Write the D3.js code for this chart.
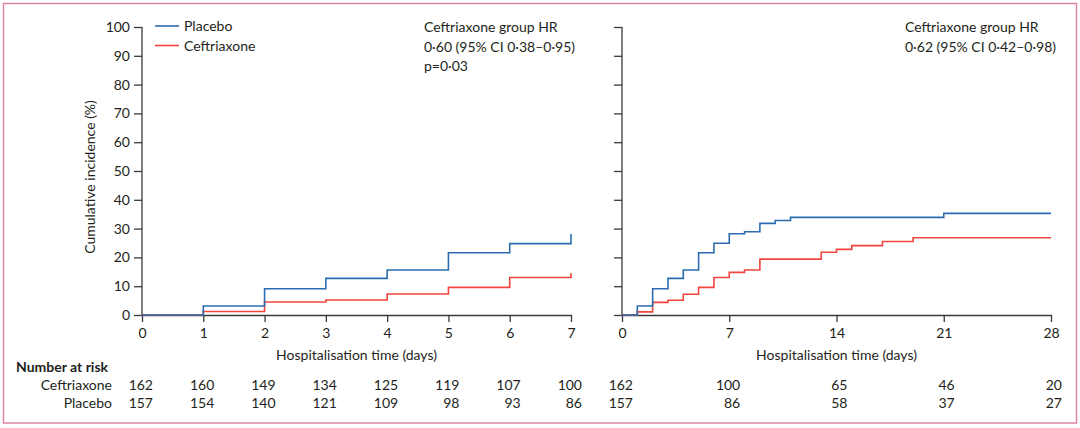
<!DOCTYPE html>
<html>
<head>
<meta charset="utf-8">
<script src="https://cdn.jsdelivr.net/npm/d3@7"></script>
<style>
  body { margin: 0; background: #fff; }
  svg text { font-family: Lato, "Open Sans", sans-serif; fill: #231f20; }
  .axis path, .axis line { stroke: #3a3a3a; stroke-width: 1.3; }
  .axis text { font-size: 14px; }
</style>
</head>
<body>
<div class="chart"></div>
<script>
// left panel: 0-7 days
const leftTicks = [0, 1, 2, 3, 4, 5, 6, 7];
const placeboLeftT = [0, 1, 2, 3, 4, 5, 6, 7];
const placeboLeftV = [0, 3.1, 9.1, 12.7, 15.6, 21.6, 24.8, 28.1];
const ceftLeftT = [0, 1, 2, 3, 4, 5, 6, 7];
const ceftLeftV = [0, 1.2, 4.5, 5.2, 7.3, 9.6, 13.0, 14.6];

// right panel: 0-28 days
const rightTicks = [0, 7, 14, 21, 28];
const placeboRightT = [0, 1, 2, 3, 4, 5, 6, 7, 8, 9, 10, 11, 21, 28];
const placeboRightV = [0, 3.1, 9.1, 12.7, 15.6, 21.6, 24.9, 28.2, 28.9, 31.8, 32.8, 33.9, 35.3, 35.3];
const ceftRightT = [0, 1, 2, 3, 4, 5, 6, 7, 8, 9, 13, 14, 15, 17, 19, 28];
const ceftRightV = [0, 1.1, 4.4, 5.1, 7.2, 9.6, 13.0, 14.8, 15.6, 19.4, 21.8, 22.8, 24.1, 25.5, 26.8, 26.8];

const yTicks = [0, 10, 20, 30, 40, 50, 60, 70, 80, 90, 100];

// number at risk
const ceftRiskLeft = [162, 160, 149, 134, 125, 119, 107, 100];
const placeboRiskLeft = [157, 154, 140, 121, 109, 98, 93, 86];
const ceftRiskRight = [162, 100, 65, 46, 20];
const placeboRiskRight = [157, 86, 58, 37, 27];

const groups = ['Placebo', 'Ceftriaxone'];
const colors = ['#2b6cb0', '#f2453d'];

const width = 1080, height = 428;
const svg = d3.select('.chart')
    .append('svg')
    .attr('width', width)
    .attr('height', height);

// frame
svg.append('rect')
    .attr('x', 3.5).attr('y', 3.5)
    .attr('width', 1073).attr('height', 419.5)
    .attr('fill', 'none')
    .attr('stroke', '#dc86a4')
    .attr('stroke-width', 1.5);

const y = d3.scaleLinear().domain([0, 100]).range([315, 27]);
const xL = d3.scaleLinear().domain([0, 7]).range([142, 571]);
const xR = d3.scaleLinear().domain([0, 28]).range([622, 1051]);

function drawAxes(x, ticks, showLabels) {
    const yAxis = d3.axisLeft(y).tickValues(yTicks).tickSize(8).tickPadding(4).tickSizeOuter(0);
    if (!showLabels) yAxis.tickFormat('');
    svg.append('g')
        .attr('class', 'axis')
        .attr('transform', 'translate(' + x.range()[0] + ',0)')
        .call(yAxis)
        .call(g => g.select('.domain').remove())
        .call(g => g.append('line')
            .attr('x1', 0).attr('x2', 0)
            .attr('y1', y(0)).attr('y2', y(100)));

    svg.append('g')
        .attr('class', 'axis')
        .attr('transform', 'translate(0,' + y(0) + ')')
        .call(d3.axisBottom(x).tickValues(ticks).tickFormat(d3.format('d'))
            .tickSize(7).tickPadding(4).tickSizeOuter(0))
        .call(g => g.selectAll('.tick text').attr('dy', '0.85em'));
}
drawAxes(xL, leftTicks, true);
drawAxes(xR, rightTicks, false);

const line = x => d3.line()
    .x(d => x(d[0]))
    .y(d => y(d[1]))
    .curve(d3.curveStepAfter);

function curve(x, t, v, color) {
    svg.append('path')
        .datum(t.map((d, i) => [d, v[i]]))
        .attr('fill', 'none')
        .attr('stroke', color)
        .attr('stroke-width', 1.6)
        .attr('d', line(x));
}
curve(xL, ceftLeftT, ceftLeftV, colors[1]);
curve(xL, placeboLeftT, placeboLeftV, colors[0]);
curve(xR, ceftRightT, ceftRightV, colors[1]);
curve(xR, placeboRightT, placeboRightV, colors[0]);

// legend
const legend = svg.append('g').attr('transform', 'translate(155,26)');
groups.forEach((g, i) => {
    legend.append('line')
        .attr('x1', 0).attr('x2', 24)
        .attr('y1', i * 19.5).attr('y2', i * 19.5)
        .attr('stroke', colors[i]).attr('stroke-width', 1.6);
    legend.append('text')
        .attr('x', 29).attr('y', i * 19.5 + 5)
        .style('font-size', '14px')
        .text(g);
});

// annotations
const noteL = ['Ceftriaxone group HR', '0\u00b760 (95% CI 0\u00b738\u20130\u00b795)', 'p=0\u00b703'];
const noteR = ['Ceftriaxone group HR', '0\u00b762 (95% CI 0\u00b742\u20130\u00b798)'];
noteL.forEach((t, i) => svg.append('text')
    .attr('x', 424).attr('y', 32 + i * 19.5)
    .style('font-size', '14px').text(t));
noteR.forEach((t, i) => svg.append('text')
    .attr('x', 905).attr('y', 32 + i * 19.5)
    .style('font-size', '14px').text(t));

// axis titles
svg.append('text')
    .attr('transform', 'translate(95,177) rotate(-90)')
    .attr('text-anchor', 'middle')
    .style('font-size', '14px')
    .text('Cumulative incidence (%)');
[xL, xR].forEach(x => svg.append('text')
    .attr('x', (x.range()[0] + x.range()[1]) / 2)
    .attr('y', 360)
    .attr('text-anchor', 'middle')
    .style('font-size', '14px')
    .text('Hospitalisation time (days)'));

// number at risk table
svg.append('text')
    .attr('x', 16).attr('y', 372)
    .style('font-size', '14px')
    .style('font-weight', 'bold')
    .text('Number at risk');
['Ceftriaxone', 'Placebo'].forEach((g, i) => svg.append('text')
    .attr('x', 112).attr('y', 390 + i * 18)
    .attr('text-anchor', 'end')
    .style('font-size', '14px')
    .text(g));

function riskRow(x, ticks, vals, row) {
    svg.selectAll(null)
        .data(vals)
        .enter()
        .append('text')
        .attr('x', (d, i) => x(ticks[i]) + 11)
        .attr('y', 390 + row * 18)
        .attr('text-anchor', 'end')
        .style('font-size', '14px')
        .text(d => d);
}
riskRow(xL, leftTicks, ceftRiskLeft, 0);
riskRow(xL, leftTicks, placeboRiskLeft, 1);
riskRow(xR, rightTicks, ceftRiskRight, 0);
riskRow(xR, rightTicks, placeboRiskRight, 1);
</script>
</body>
</html>
